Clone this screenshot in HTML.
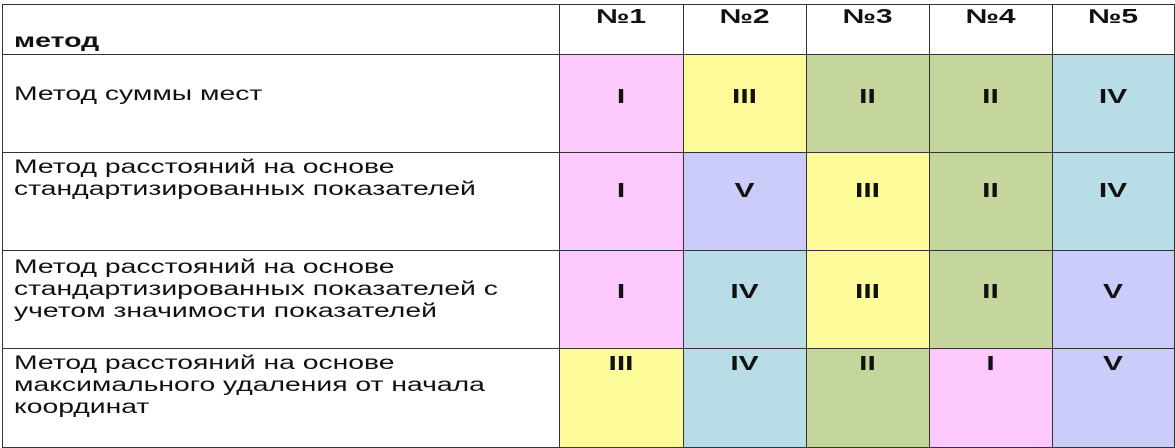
<!DOCTYPE html>
<html><head><meta charset="utf-8"><style>
body{margin:0;width:1175px;height:447px;background:#fff;overflow:hidden;position:relative;font-family:"Liberation Sans","DejaVu Sans",sans-serif}
.c{position:absolute;box-sizing:border-box;border:1.5px solid #333}
.t{position:absolute;white-space:nowrap;font-size:19px;line-height:22px;transform:scaleX(1.49);transform-origin:left top;color:#111}
.n{position:absolute;font-weight:bold;font-size:20px;transform:scaleX(1.5);text-align:center;color:#111}
</style></head><body>
<div id="g"></div>
<script>
var xs=[2,559,683,806,929,1052,1174],ys=[4,54,152,250,348,447];
var col={p:"#fdc9fc",y:"#fefc9a",g:"#c5d69d",b:"#b8dde6",v:"#ccccfb",w:"#fff"};
var data=[["p","y","g","g","b"],["p","v","y","g","b"],["p","b","y","g","v"],["y","b","g","p","v"]];
var nums=[["I","III","II","II","IV"],["I","V","III","II","IV"],["I","IV","III","II","V"],["III","IV","II","I","V"]];
var h="";
for(var r=0;r<5;r++)for(var c=0;c<6;c++){var bg=(r==0||c==0)?"#fff":col[data[r-1][c-1]];
h+='<div class="c" style="left:'+xs[c]+'px;top:'+ys[r]+'px;width:'+(xs[c+1]-xs[c]+1)+'px;height:'+(ys[r+1]-ys[r]+1)+'px;background:'+bg+'"></div>';}
for(var c=1;c<6;c++){h+='<div class="n" style="left:'+xs[c]+'px;width:'+(xs[c+1]-xs[c])+'px;top:6px">№'+c+'</div>';
for(var r=0;r<4;r++){var ty=[86,180,281,353][r];h+='<div class="n" style="left:'+xs[c]+'px;width:'+(xs[c+1]-xs[c])+'px;top:'+ty+'px">'+nums[r][c-1]+'</div>';}}
h+='<div class="t" style="left:14px;top:31px;font-weight:bold;transform:scaleX(1.5)">метод</div>';
var rows=[[84,["Метод суммы мест"]],[157,["Метод расстояний на основе","стандартизированных показателей"]],[257,["Метод расстояний на основе","стандартизированных показателей с","учетом значимости показателей"]],[353,["Метод расстояний на основе","максимального удаления от начала","координат"]]];
rows.forEach(function(r){h+='<div class="t" style="left:14px;top:'+r[0]+'px">'+r[1].join("<br>")+'</div>';});
document.getElementById("g").innerHTML=h;
</script>
</body></html>
